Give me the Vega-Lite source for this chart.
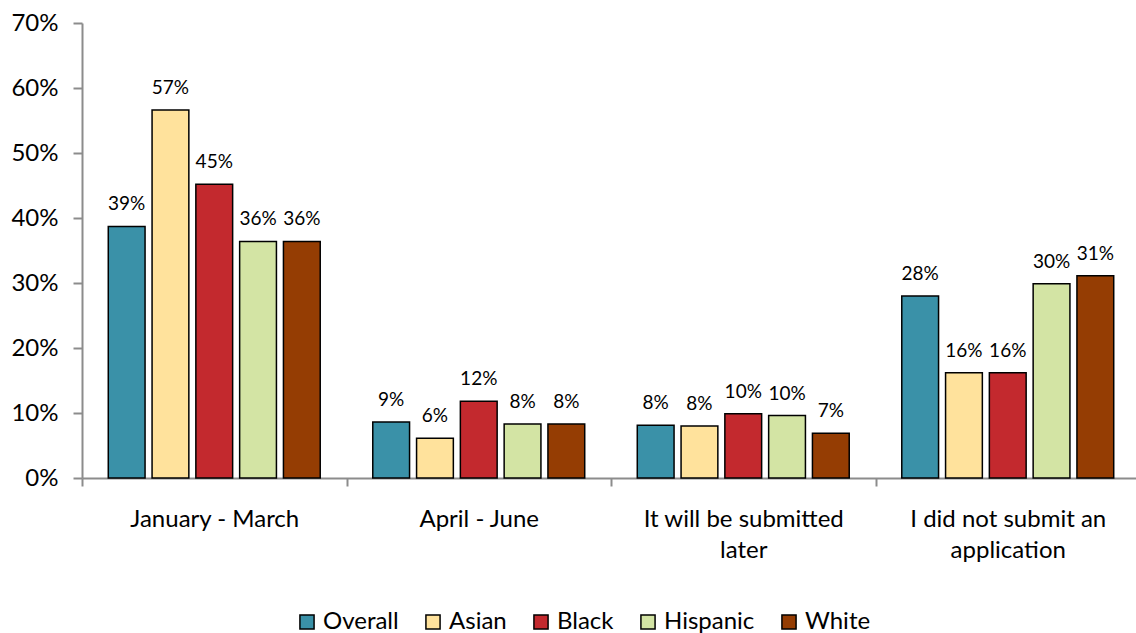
{
  "$schema": "https://vega.github.io/schema/vega-lite/v6.json",
  "autosize": "none",
  "width": 1058,
  "height": 455,
  "padding": {"left": 82, "top": 23, "right": 0, "bottom": 155},
  "background": "white",
  "config": {"view": {"stroke": null}, "font": "Lato"},
  "data": {"values": [
    {"cat": "January - March", "group": "Overall", "v": 0.387},
    {"cat": "January - March", "group": "Asian", "v": 0.566},
    {"cat": "January - March", "group": "Black", "v": 0.452},
    {"cat": "January - March", "group": "Hispanic", "v": 0.364},
    {"cat": "January - March", "group": "White", "v": 0.364},
    {"cat": "April - June", "group": "Overall", "v": 0.086},
    {"cat": "April - June", "group": "Asian", "v": 0.061},
    {"cat": "April - June", "group": "Black", "v": 0.118},
    {"cat": "April - June", "group": "Hispanic", "v": 0.083},
    {"cat": "April - June", "group": "White", "v": 0.083},
    {"cat": "It will be submitted later", "group": "Overall", "v": 0.081},
    {"cat": "It will be submitted later", "group": "Asian", "v": 0.080},
    {"cat": "It will be submitted later", "group": "Black", "v": 0.099},
    {"cat": "It will be submitted later", "group": "Hispanic", "v": 0.096},
    {"cat": "It will be submitted later", "group": "White", "v": 0.069},
    {"cat": "I did not submit an application", "group": "Overall", "v": 0.280},
    {"cat": "I did not submit an application", "group": "Asian", "v": 0.162},
    {"cat": "I did not submit an application", "group": "Black", "v": 0.162},
    {"cat": "I did not submit an application", "group": "Hispanic", "v": 0.299},
    {"cat": "I did not submit an application", "group": "White", "v": 0.311}
  ]},
  "encoding": {
    "x": {
      "field": "cat", "type": "nominal", "sort": null,
      "scale": {"paddingInner": 0, "paddingOuter": 0},
      "axis": {
        "title": null, "labelAngle": 0, "tickBand": "extent",
        "domainColor": "#8c8c8c", "domainWidth": 2, "tickColor": "#8c8c8c", "tickWidth": 2, "tickSize": 8,
        "labelFont": "Lato", "labelFontSize": 24, "labelColor": "#000000", "labelPadding": 21,
        "labelLimit": 400, "labelBaseline": "top", "labelLineHeight": 31,
        "labelExpr": "datum.label == 'It will be submitted later' ? ['It will be submitted', 'later'] : datum.label == 'I did not submit an application' ? ['I did not submit an', 'application'] : datum.label"
      }
    },
    "xOffset": {
      "field": "group", "type": "nominal", "sort": ["Overall", "Asian", "Black", "Hispanic", "White"],
      "scale": {"paddingInner": 0.16, "paddingOuter": 0.6}
    },
    "y": {
      "field": "v", "type": "quantitative",
      "scale": {"domain": [0, 0.7], "nice": false},
      "axis": {
        "title": null, "format": ".0%", "values": [0, 0.1, 0.2, 0.3, 0.4, 0.5, 0.6, 0.7],
        "grid": false, "domainColor": "#8c8c8c", "domainWidth": 2, "tickColor": "#8c8c8c", "tickWidth": 2, "tickSize": 9,
        "labelFont": "Lato", "labelFontSize": 24, "labelColor": "#000000", "labelPadding": 15
      }
    }
  },
  "layer": [
    {
      "mark": {"type": "bar", "stroke": "#000000", "strokeWidth": 1.5},
      "encoding": {
        "color": {
          "field": "group", "type": "nominal",
          "sort": ["Overall", "Asian", "Black", "Hispanic", "White"],
          "scale": {"domain": ["Overall", "Asian", "Black", "Hispanic", "White"], "range": ["#3a91a8", "#ffe29c", "#c3292e", "#d3e4a4", "#953d03"]},
          "legend": {
            "title": null, "orient": "none", "direction": "horizontal", "legendX": 213, "legendY": 587,
            "symbolType": "square", "symbolSize": 200, "symbolStrokeColor": "#000000", "symbolStrokeWidth": 1.5,
            "symbolOpacity": 1, "labelFont": "Lato", "labelFontSize": 24, "labelColor": "#000000",
            "columnPadding": 22, "labelOffset": 4
          }
        }
      }
    },
    {
      "mark": {"type": "text", "baseline": "bottom", "dy": -12, "fontSize": 19, "font": "Lato", "color": "#000000"},
      "encoding": {
        "text": {"field": "v", "type": "quantitative", "format": ".0%"}
      }
    }
  ]
}
